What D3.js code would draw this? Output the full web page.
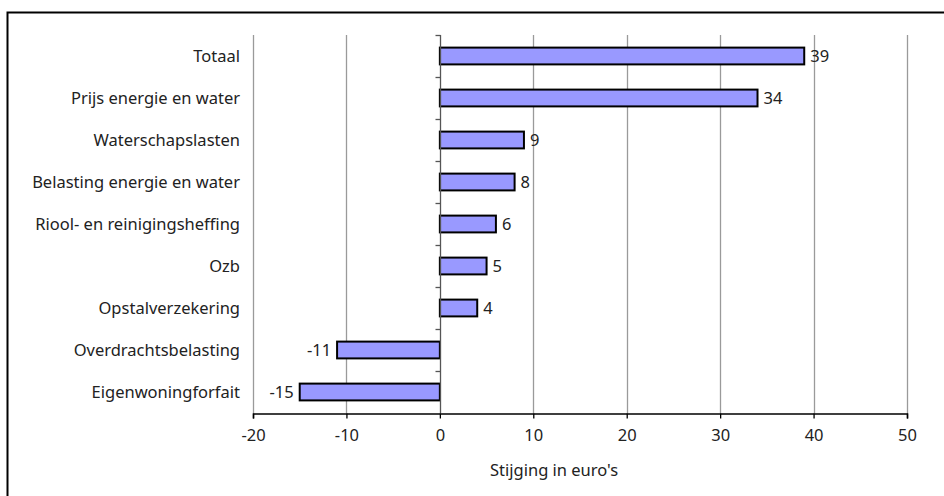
<!DOCTYPE html>
<html>
<head>
<meta charset="utf-8">
<script src="https://cdn.jsdelivr.net/npm/d3@7"></script>
<style>
  html, body { margin: 0; padding: 0; background: #fff; }
  svg { display: block; }
  text { font-family: "Noto Sans", "Open Sans", sans-serif; fill: #222; }
</style>
</head>
<body>
<svg id="chart" width="944" height="496"></svg>
<script>
// Posts contributing to the change in housing costs
const categories = [
  "Totaal",
  "Prijs energie en water",
  "Waterschapslasten",
  "Belasting energie en water",
  "Riool- en reinigingsheffing",
  "Ozb",
  "Opstalverzekering",
  "Overdrachtsbelasting",
  "Eigenwoningforfait"
];
const values = [39, 34, 9, 8, 6, 5, 4, -11, -15];
const xTicks = [-20, -10, 0, 10, 20, 30, 40, 50];
const xTitle = "Stijging in euro's";

const svg = d3.select("#chart");
const plot = { left: 253, right: 907, top: 35, bottom: 413 };
const FS = 16.5;

// outer frame (top and left edges visible)
svg.append("path")
  .attr("d", `M7.5,496 V12.5 H944`)
  .attr("fill", "none").attr("stroke", "#000").attr("stroke-width", 2);

const x = d3.scaleLinear().domain([-20, 50]).range([plot.left, plot.right]);
const y = d3.scaleBand().domain(categories).range([plot.top, plot.bottom]).paddingInner(0.6).paddingOuter(0.3);
const yOuter = d3.scaleBand().domain(categories).range([plot.top, plot.bottom]);

// vertical gridlines
svg.append("g").selectAll("line")
  .data(xTicks.filter(t => t !== 0))
  .join("line")
  .attr("x1", d => Math.round(x(d)) + 0.5).attr("x2", d => Math.round(x(d)) + 0.5)
  .attr("y1", plot.top).attr("y2", plot.bottom)
  .attr("stroke", "#9a9a9a").attr("stroke-width", 1.3);

// bars
svg.append("g").selectAll("rect")
  .data(categories)
  .join("rect")
  .attr("x", (d, i) => Math.min(x(0), x(values[i])))
  .attr("y", d => y(d))
  .attr("width", (d, i) => Math.abs(x(values[i]) - x(0)))
  .attr("height", y.bandwidth())
  .attr("fill", "#9999ff")
  .attr("stroke", "#000").attr("stroke-width", 2);

// category axis at zero
const zx = Math.round(x(0)) + 0.5;
svg.append("line")
  .attr("x1", zx).attr("x2", zx).attr("y1", plot.top).attr("y2", plot.bottom)
  .attr("stroke", "#555").attr("stroke-width", 1.3);
svg.append("g").selectAll("line")
  .data(categories)
  .join("line")
  .attr("x1", zx - 5).attr("x2", zx)
  .attr("y1", d => Math.round(yOuter(d)) + 0.5).attr("y2", d => Math.round(yOuter(d)) + 0.5)
  .attr("stroke", "#555").attr("stroke-width", 1.3);

// category labels
svg.append("g").selectAll("text")
  .data(categories)
  .join("text")
  .attr("x", 240)
  .attr("y", d => y(d) + y.bandwidth() / 2)
  .attr("dy", "0.35em")
  .attr("text-anchor", "end")
  .attr("font-size", FS)
  .text(d => d);

// value labels
svg.append("g").selectAll("text")
  .data(categories)
  .join("text")
  .attr("x", (d, i) => values[i] >= 0 ? x(values[i]) + 6 : x(values[i]) - 6)
  .attr("y", d => y(d) + y.bandwidth() / 2)
  .attr("dy", "0.35em")
  .attr("text-anchor", (d, i) => values[i] >= 0 ? "start" : "end")
  .attr("font-size", FS)
  .text((d, i) => values[i]);

// value axis
const xAxis = d3.axisBottom(x).tickValues(xTicks).tickSize(5).tickPadding(11).tickFormat(d3.format("d"));
const gx = svg.append("g")
  .attr("transform", `translate(0,${plot.bottom + 0.5})`)
  .call(xAxis);
gx.select(".domain").attr("stroke", "#000").attr("stroke-width", 1.5);
gx.selectAll(".tick line").attr("stroke", "#000").attr("stroke-width", 1.3);
gx.selectAll(".tick text")
  .attr("font-size", FS).attr("font-family", "\"Noto Sans\", sans-serif").attr("fill", "#222")
  .text(d => d < 0 ? "-" + Math.abs(d) : d);

svg.append("text")
  .attr("x", 490).attr("y", 476)
  .attr("font-size", FS)
  .text(xTitle);
</script>
</body>
</html>
